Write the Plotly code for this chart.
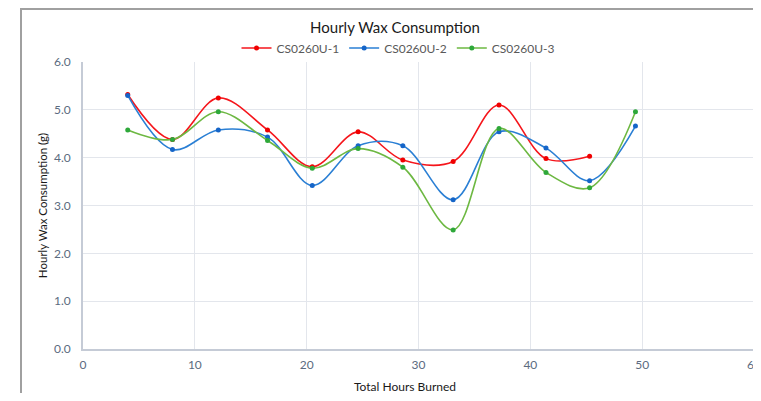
import plotly.graph_objects as go

hours = [4.0, 8.0, 12.1, 16.5, 20.5, 24.6, 28.6, 33.1, 37.2, 41.4, 45.3, 49.4]
s1_name = "CS0260U-1"
s2_name = "CS0260U-2"
s3_name = "CS0260U-3"
s1 = [5.32, 4.38, 5.25, 4.58, 3.81, 4.54, 3.95, 3.92, 5.10, 3.98, 4.03]
s2 = [5.30, 4.17, 4.58, 4.43, 3.42, 4.25, 4.25, 3.12, 4.54, 4.20, 3.52, 4.66]
s3 = [4.58, 4.38, 4.96, 4.36, 3.78, 4.19, 3.80, 2.49, 4.61, 3.69, 3.37, 4.96]
x_ticks = [0, 10, 20, 30, 40, 50, 60]
y_ticks = [0, 1, 2, 3, 4, 5, 6]

FONT = "Lato"
TICK_COL = "#5b6b80"
W, H = 753, 385          # page body has an 8px margin on every side
L, R, T, B = 75, 7, 54, 44
PW, PH = W - L - R, H - T - B

fig = go.Figure()
series = [
    (s1_name, s1, "#f5151b", "#f00000"),
    (s2_name, s2, "#2a7fd4", "#1565c8"),
    (s3_name, s3, "#6db842", "#2ea83a"),
]
for name, vals, lc, mc in series:
    fig.add_trace(go.Scatter(
        x=hours[:len(vals)], y=vals, name=name, mode="lines+markers",
        line=dict(color=lc, width=1.6, shape="spline", smoothing=1.0),
        marker=dict(color=mc, size=5),
    ))

fig.update_layout(
    width=W, height=H,
    margin=dict(l=L, r=R, t=T, b=B, autoexpand=False),
    paper_bgcolor="white", plot_bgcolor="white",
    font=dict(family=FONT, color="#404040"),
    title=dict(text="Hourly Wax Consumption", x=387 / W, xanchor="center",
               y=1 - 20 / H, yanchor="middle",
               font=dict(size=15, color="#1a1a1a", family=FONT)),
    legend=dict(orientation="h", x=390 / W, xanchor="center", y=1 - 40 / H,
                yanchor="middle", yref="container", xref="container",
                font=dict(size=12, color="#595959", family=FONT),
                itemwidth=30, tracegroupgap=0, bgcolor="rgba(0,0,0,0)"),
    xaxis=dict(range=[0, 60], tickvals=x_ticks, showgrid=True, gridcolor="#e3e6ec",
               gridwidth=1, zeroline=False, showline=True, linecolor="#c5cbd6",
               linewidth=1.5, ticks="", automargin=False, ticklabelstandoff=4,
               ticklabeloverflow="allow",
               tickfont=dict(size=12, color=TICK_COL)),
    yaxis=dict(range=[0, 6], tickvals=y_ticks, tickformat=".1f", showgrid=True,
               gridcolor="#e3e6ec", gridwidth=1, zeroline=False, showline=True,
               linecolor="#c5cbd6", linewidth=1.5, ticks="", automargin=False,
               ticklabelstandoff=8,
               tickfont=dict(size=12, color=TICK_COL),
               title=dict(text="Hourly Wax Consumption (g)",
                          font=dict(size=11.5, color="#1a1a1a"), standoff=4)),
    showlegend=True,
)

# x-axis title (sits slightly left of the plot centre in the original)
fig.add_annotation(text="Total Hours Burned", xref="paper", yref="paper",
                   x=(397 - L) / PW, y=-(378 - (H - B)) / PH,
                   xanchor="center", yanchor="middle", showarrow=False,
                   font=dict(size=12, color="#1a1a1a", family=FONT))

# outer chart border (cropped frame)
fig.add_shape(type="rect", xref="paper", yref="paper",
              x0=(13 - L) / PW, x1=(W + 10 - L) / PW,
              y0=(H - B - H - 10) / PH, y1=(H - B - 1) / PH,
              line=dict(color="#a0a0a0", width=2), fillcolor="rgba(0,0,0,0)", layer="below")

fig.write_html("out.html")
